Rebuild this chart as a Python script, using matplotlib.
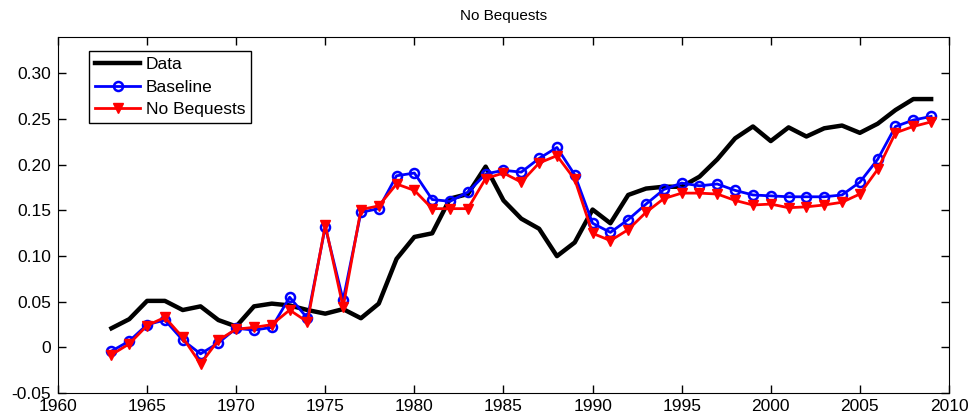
import matplotlib
matplotlib.use("Agg")
import matplotlib.pyplot as plt
import numpy as np

plt.rcParams['font.family'] = ['Liberation Sans', 'DejaVu Sans']

years = list(range(1963, 2010))

data = [0.021, 0.031, 0.051, 0.051, 0.041, 0.045, 0.030, 0.023, 0.045, 0.048,
        0.046, 0.041, 0.037, 0.042, 0.032, 0.048, 0.097, 0.121, 0.125, 0.163,
        0.168, 0.198, 0.161, 0.141, 0.130, 0.100, 0.115, 0.151, 0.136, 0.167,
        0.174, 0.176, 0.176, 0.187, 0.206, 0.229, 0.242, 0.226, 0.241, 0.231,
        0.240, 0.243, 0.235, 0.245, 0.260, 0.272, 0.272]

baseline = [-0.004, 0.007, 0.025, 0.030, 0.008, -0.007, 0.005, 0.021, 0.019, 0.022,
            0.055, 0.032, 0.132, 0.052, 0.148, 0.152, 0.188, 0.191, 0.162, 0.160,
            0.170, 0.190, 0.194, 0.192, 0.207, 0.219, 0.189, 0.136, 0.126, 0.140,
            0.157, 0.173, 0.180, 0.177, 0.179, 0.172, 0.167, 0.166, 0.165, 0.165,
            0.165, 0.167, 0.181, 0.206, 0.242, 0.249, 0.253]

no_bequests = [-0.008, 0.004, 0.024, 0.033, 0.011, -0.018, 0.008, 0.020, 0.022, 0.025,
               0.041, 0.028, 0.134, 0.044, 0.151, 0.155, 0.179, 0.172, 0.152, 0.152,
               0.152, 0.185, 0.191, 0.181, 0.202, 0.210, 0.184, 0.125, 0.117, 0.129,
               0.148, 0.163, 0.169, 0.169, 0.168, 0.161, 0.156, 0.157, 0.153, 0.154,
               0.156, 0.159, 0.168, 0.195, 0.235, 0.242, 0.247]

fig = plt.figure(figsize=(9.78, 4.2), dpi=100)
ax = fig.add_axes([0.0593, 0.064, 0.911, 0.848])

ax.plot(years, data, color='black', linewidth=3.2, label='Data')
ax.plot(years, baseline, color='blue', linewidth=2, marker='o', markersize=6.5,
        markerfacecolor='none', markeredgewidth=1.8, label='Baseline')
ax.plot(years, no_bequests, color='red', linewidth=2, marker='v', markersize=7.5,
        markerfacecolor='red', markeredgecolor='red', label='No Bequests')

ax.set_xlim(1960, 2010)
ax.set_ylim(-0.05, 0.34)
ax.set_xticks(np.arange(1960, 2011, 5))
yt = np.arange(-0.05, 0.31, 0.05)
ax.set_yticks(yt)
ax.set_yticklabels(['0' if abs(v) < 1e-9 else f'{v:.2f}' for v in yt])
ax.tick_params(direction='in', top=True, right=True, labelsize=12.5, length=6, width=1)
ax.tick_params(axis='x', pad=4)
ax.tick_params(axis='y', pad=5)
ax.set_title('No Bequests', fontsize=11, pad=12)

# legend box drawn like the MATLAB one: square corners, thin black edge
leg = ax.legend(loc='upper left', bbox_to_anchor=(0.035, 0.96), fontsize=12.5,
                fancybox=False, edgecolor='black', framealpha=1,
                handlelength=2.6, handletextpad=0.3, borderpad=0.35, labelspacing=0.42,
                borderaxespad=0)
leg.get_frame().set_linewidth(1)

fig.savefig('out.png', dpi=100)
